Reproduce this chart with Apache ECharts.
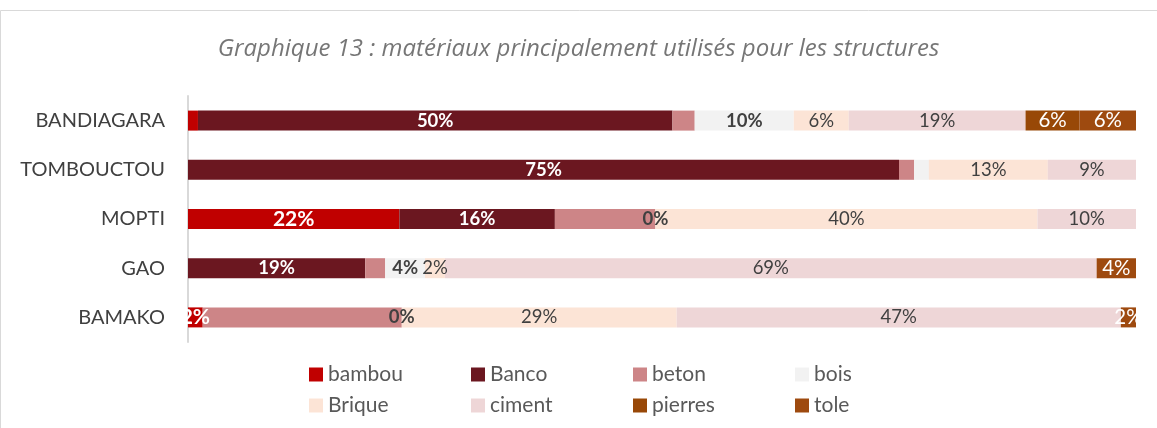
<!DOCTYPE html>
<html>
<head>
<meta charset="utf-8">
<script src="https://cdn.jsdelivr.net/npm/echarts@6/dist/echarts.min.js"></script>
<style>
  html, body { margin: 0; padding: 0; background: #fff; }
  #chart { width: 1157px; height: 428px; }
</style>
</head>
<body>
<div id="chart"></div>
<script>
// ---- Data (percentages) ----
const titleText = 'Graphique 13 : matériaux principalement utilisés pour les structures';
const categories = ['BANDIAGARA', 'TOMBOUCTOU', 'MOPTI', 'GAO', 'BAMAKO'];
const seriesNames = ['bambou', 'Banco', 'beton', 'bois', 'Brique', 'ciment', 'pierres', 'tole'];

const bambou  = [1.05, 0,     22.3, 0,     1.55];
const banco   = [50.05, 75,   16.4, 18.7,  0];
const beton   = [2.35, 1.6,   10.6, 2.1,   21];
const bois    = [10.45, 1.55, 0,    4.2,   0];
const brique  = [5.8,  12.55, 40.3, 2.1,   29];
const ciment  = [18.65, 9.3,  10.4, 68.75, 46.85];
const pierres = [5.7,  0,     0,    0,     0];
const tole    = [5.95, 0,     0,    4.15,  1.6];

// labels hidden / zero-labels shown in the original
const hiddenLabels = { bambou: ['BANDIAGARA'], beton: categories.slice(), bois: ['TOMBOUCTOU'] };
const zeroLabelsShown = { bois: ['MOPTI', 'BAMAKO'] };

const values = [bambou, banco, beton, bois, brique, ciment, pierres, tole];

// ---- Styles ----
const FONT = 'Lato';
const colors = ['#C00000', '#6B1720', '#CD8587', '#F2F2F2', '#FCE4D6', '#EED6D7', '#984807', '#9E4A0F'];
const labelStyles = [
  { color: '#fff', fontWeight: 'bold', fontSize: 21 },
  { color: '#fff', fontWeight: 'bold', fontSize: 18.5 },
  { color: '#404040', fontWeight: 'normal', fontSize: 18.5 },
  { color: '#404040', fontWeight: 'bold', fontSize: 18.5 },
  { color: '#404040', fontWeight: 'normal', fontSize: 18.5 },
  { color: '#404040', fontWeight: 'normal', fontSize: 18.5 },
  { color: '#fff', fontWeight: 'normal', fontSize: 20.5 },
  { color: '#fff', fontWeight: 'normal', fontSize: 20.5 }
];

const series = seriesNames.map((name, si) => ({
  name: name,
  type: 'bar',
  stack: 'total',
  barWidth: 20,
  itemStyle: { color: colors[si] },
  label: Object.assign({
    position: 'inside',
    fontFamily: FONT,
    formatter: p => Math.round(p.value) + '%'
  }, labelStyles[si]),
  data: values[si].map((v, ci) => {
    const cat = categories[ci];
    let show = v > 0;
    if ((hiddenLabels[name] || []).includes(cat)) show = false;
    if ((zeroLabelsShown[name] || []).includes(cat)) show = true;
    return { value: v, label: { show: show } };
  })
}));

const chart = echarts.init(document.getElementById('chart'), null, { renderer: 'canvas' });
chart.setOption({
  animation: false,
  backgroundColor: '#fff',
  textStyle: { fontFamily: FONT },
  graphic: [{
    type: 'rect',
    shape: { x: 0.5, y: 10.5, width: 1300, height: 600 },
    style: { fill: 'none', stroke: '#D9D9D9', lineWidth: 1 },
    silent: true
  }],
  title: {
    text: titleText,
    left: 'center',
    top: 32,
    textStyle: { fontFamily: 'Open Sans', fontStyle: 'italic', fontWeight: 'normal', fontSize: 24, color: '#767676' }
  },
  legend: {
    data: seriesNames,
    left: 304,
    top: 354,
    width: 660,
    orient: 'horizontal',
    itemGap: 0,
    itemWidth: 14,
    itemHeight: 14,
    icon: 'rect',
    textStyle: { fontFamily: FONT, fontSize: 21, color: '#595959', width: 143, lineHeight: 31, overflow: 'truncate' }
  },
  grid: { left: 188, right: 21, top: 96, bottom: 86, containLabel: false },
  xAxis: {
    type: 'value',
    min: 0,
    max: 100,
    show: false
  },
  yAxis: {
    type: 'category',
    data: categories,
    inverse: true,
    axisLine: { show: true, lineStyle: { color: '#D9D9D9', width: 2 } },
    axisTick: { show: false },
    axisLabel: { fontFamily: FONT, fontSize: 20, color: '#404040', margin: 23 }
  },
  series: series
});
</script>
</body>
</html>
